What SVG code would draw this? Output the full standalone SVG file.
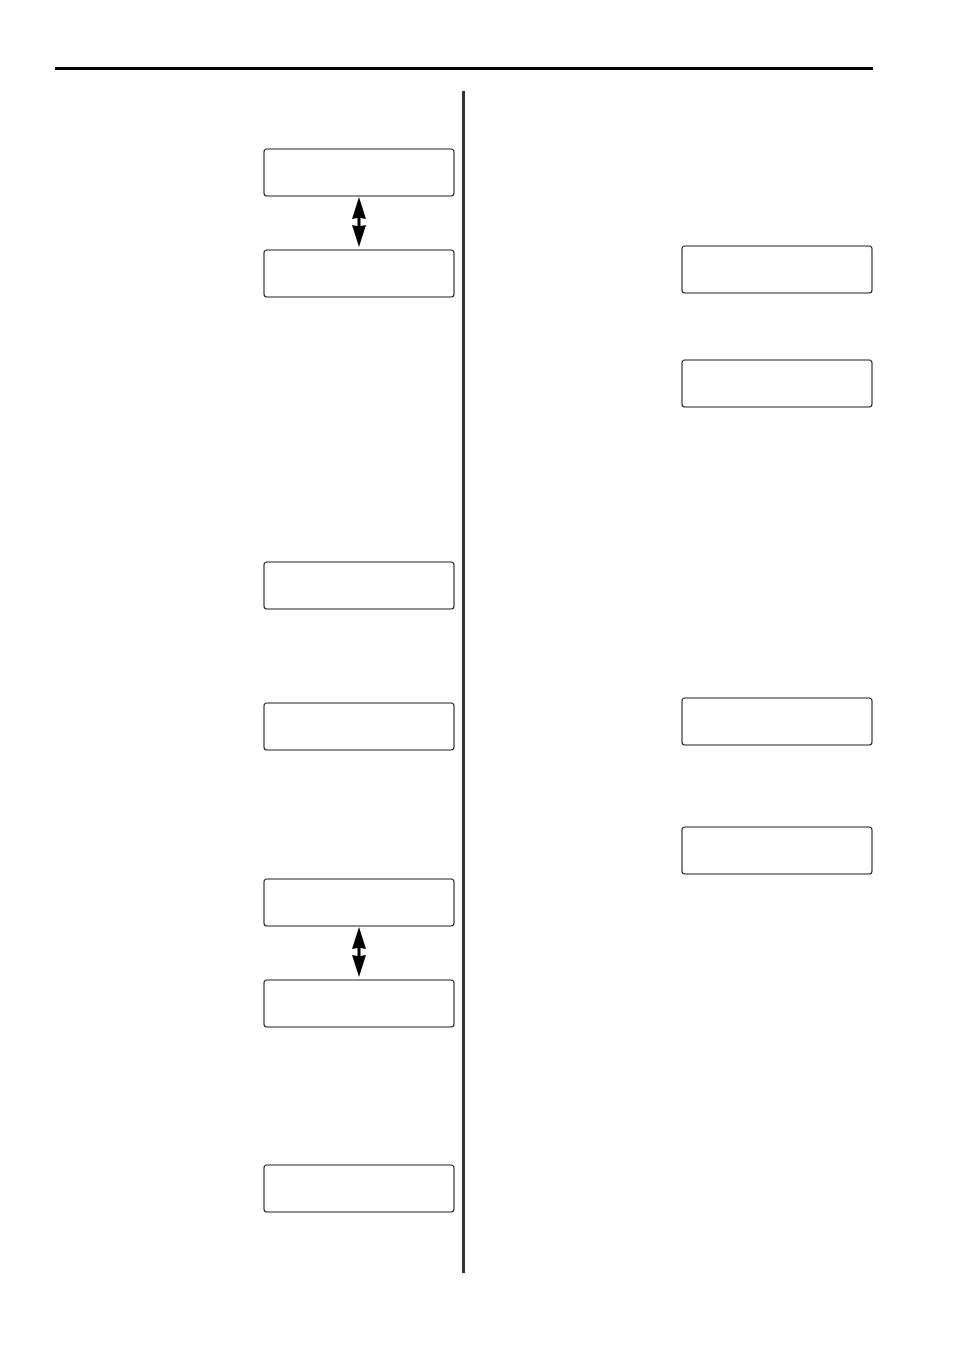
<svg xmlns="http://www.w3.org/2000/svg" width="954" height="1350" viewBox="0 0 954 1350">
<style>
.box{fill:#fff;stroke:#222;stroke-width:1.1}
.arr{fill:#000;stroke:none}
</style>
<defs>
<path id="dbl" class="arr" d="M0,0 L7,22 L1.5,21 L1.5,29 L7,28 L0,50 L-7,28 L-1.5,29 L-1.5,21 L-7,22 Z"/>
</defs>
<rect width="954" height="1350" fill="#fff"/>
<g id="rules">
<line x1="55" y1="68.5" x2="873" y2="68.5" stroke="#000" stroke-width="3"/>
<line x1="463.5" y1="91" x2="463.5" y2="1273" stroke="#333" stroke-width="3"/>
</g>
<g id="n1"><rect class="box" x="264" y="149" width="190" height="47" rx="3"/></g>
<g id="n2"><rect class="box" x="264" y="250" width="190" height="47" rx="3"/></g>
<g id="n3"><rect class="box" x="264" y="562" width="190" height="47" rx="3"/></g>
<g id="n4"><rect class="box" x="264" y="703" width="190" height="47" rx="3"/></g>
<g id="n5"><rect class="box" x="264" y="879" width="190" height="47" rx="3"/></g>
<g id="n6"><rect class="box" x="264" y="980" width="190" height="47" rx="3"/></g>
<g id="n7"><rect class="box" x="264" y="1165" width="190" height="47" rx="3"/></g>
<g id="n8"><rect class="box" x="682" y="246" width="190" height="47" rx="3"/></g>
<g id="n9"><rect class="box" x="682" y="360" width="190" height="47" rx="3"/></g>
<g id="n10"><rect class="box" x="682" y="698" width="190" height="47" rx="3"/></g>
<g id="n11"><rect class="box" x="682" y="827" width="190" height="47" rx="3"/></g>
<g id="connectors">
<use href="#dbl" x="359" y="197"/>
<use href="#dbl" x="359" y="927"/>
</g>
</svg>
